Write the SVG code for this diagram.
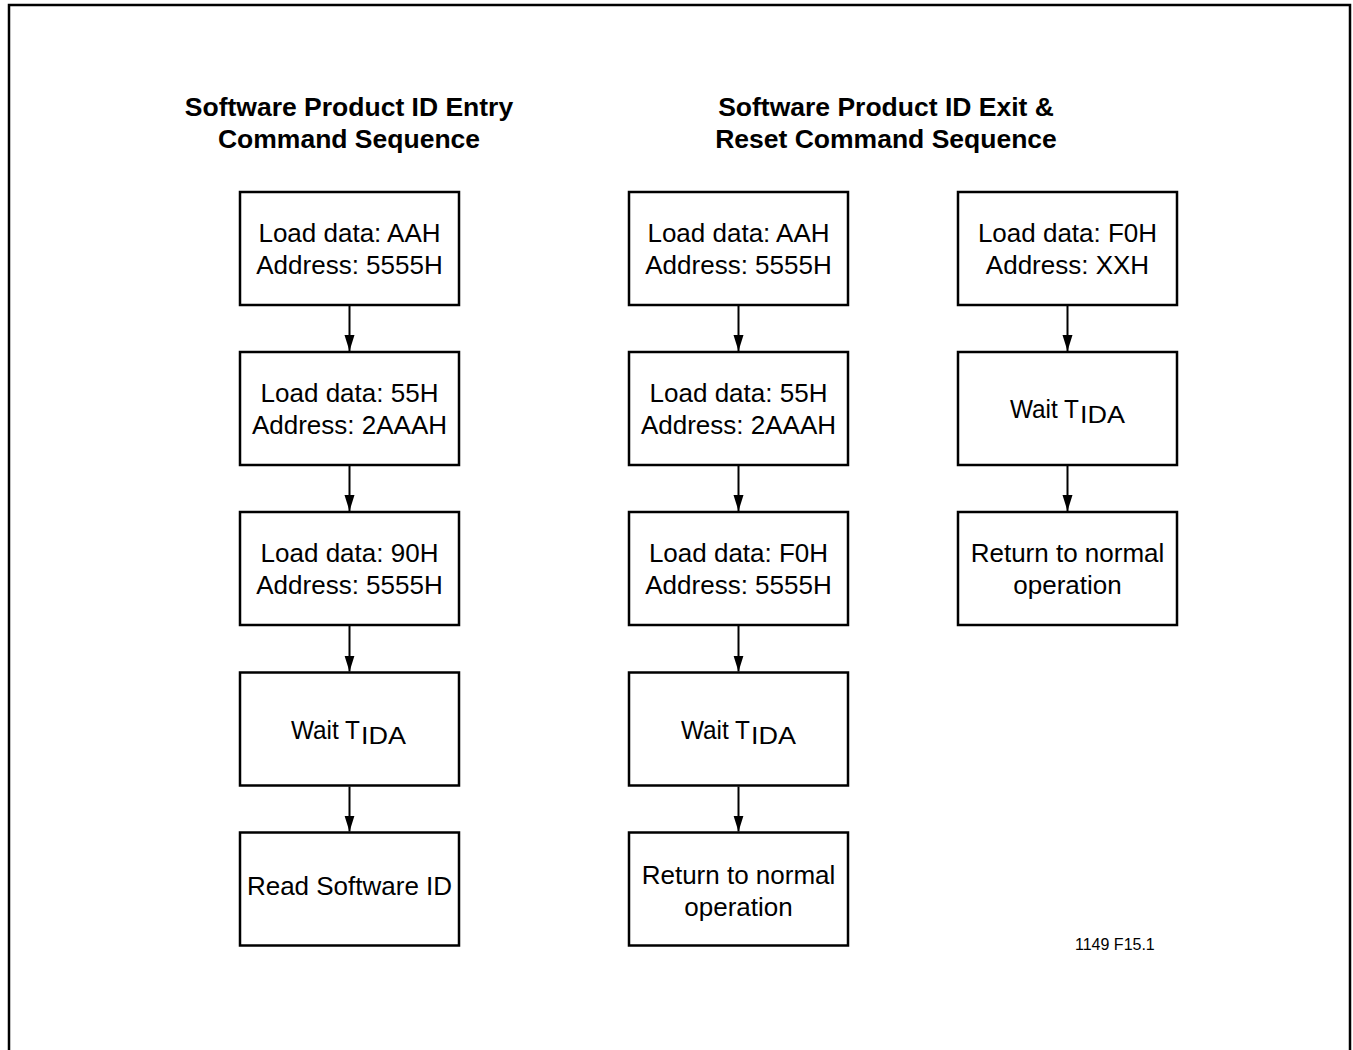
<svg xmlns="http://www.w3.org/2000/svg" width="1353" height="1050" viewBox="0 0 1353 1050">
<style>
  .frame { fill: none; stroke: #000; stroke-width: 2.5; }
  .box { fill: #fff; stroke: #000; stroke-width: 2.5; }
  .t { font-family: "Liberation Sans", Arial, sans-serif; font-size: 26px; fill: #000; text-anchor: middle; }
  .title { font-family: "Liberation Sans", Arial, sans-serif; font-size: 26.5px; font-weight: bold; fill: #000; text-anchor: middle; }
  .sub { font-family: "Liberation Sans", Arial, sans-serif; font-size: 23px; fill: #000; }
  .note { font-family: "Liberation Sans", Arial, sans-serif; font-size: 16px; fill: #000; }
  .conn { stroke: #000; stroke-width: 2; fill: none; marker-end: url(#arr); }
</style>
<defs>
  <marker id="arr" markerUnits="userSpaceOnUse" markerWidth="18" markerHeight="12" refX="16" refY="5" orient="auto">
    <path d="M0,0 L16,5 L0,10 Z" fill="#000"/>
  </marker>
</defs>
<rect width="1353" height="1050" fill="#fff"/>
<rect class="frame" x="9" y="5" width="1341" height="1100"/>

<g id="title-entry">
  <text class="title" x="349" y="116">Software Product ID Entry</text>
  <text class="title" x="349" y="148">Command Sequence</text>
</g>
<g id="title-exit">
  <text class="title" x="886" y="116">Software Product ID Exit &amp;</text>
  <text class="title" x="886" y="148">Reset Command Sequence</text>
</g>

<!-- Column 1 -->
<g id="e1"><rect class="box" x="240" y="192" width="219" height="113"/>
  <text class="t" x="349.5" y="242">Load data: AAH</text><text class="t" x="349.5" y="273.5">Address: 5555H</text></g>
<g id="e2"><rect class="box" x="240" y="352" width="219" height="113"/>
  <text class="t" x="349.5" y="402">Load data: 55H</text><text class="t" x="349.5" y="433.5">Address: 2AAAH</text></g>
<g id="e3"><rect class="box" x="240" y="512" width="219" height="113"/>
  <text class="t" x="349.5" y="562">Load data: 90H</text><text class="t" x="349.5" y="593.5">Address: 5555H</text></g>
<g id="e4"><rect class="box" x="240" y="672.5" width="219" height="113"/>
  <text class="t" x="291" y="739" style="text-anchor:start" textLength="69" lengthAdjust="spacingAndGlyphs">Wait T</text><text class="sub" x="361" y="744" textLength="45" lengthAdjust="spacingAndGlyphs">IDA</text></g>
<g id="e5"><rect class="box" x="240" y="832.5" width="219" height="113"/>
  <text class="t" x="349.5" y="895">Read Software ID</text></g>

<!-- Column 2 -->
<g id="x1"><rect class="box" x="629" y="192" width="219" height="113"/>
  <text class="t" x="738.5" y="242">Load data: AAH</text><text class="t" x="738.5" y="273.5">Address: 5555H</text></g>
<g id="x2"><rect class="box" x="629" y="352" width="219" height="113"/>
  <text class="t" x="738.5" y="402">Load data: 55H</text><text class="t" x="738.5" y="433.5">Address: 2AAAH</text></g>
<g id="x3"><rect class="box" x="629" y="512" width="219" height="113"/>
  <text class="t" x="738.5" y="562">Load data: F0H</text><text class="t" x="738.5" y="593.5">Address: 5555H</text></g>
<g id="x4"><rect class="box" x="629" y="672.5" width="219" height="113"/>
  <text class="t" x="681" y="739" style="text-anchor:start" textLength="69" lengthAdjust="spacingAndGlyphs">Wait T</text><text class="sub" x="751" y="744" textLength="45" lengthAdjust="spacingAndGlyphs">IDA</text></g>
<g id="x5"><rect class="box" x="629" y="832.5" width="219" height="113"/>
  <text class="t" x="738.5" y="884">Return to normal</text><text class="t" x="738.5" y="915.5">operation</text></g>

<!-- Column 3 -->
<g id="r1"><rect class="box" x="958" y="192" width="219" height="113"/>
  <text class="t" x="1067.5" y="242">Load data: F0H</text><text class="t" x="1067.5" y="273.5">Address: XXH</text></g>
<g id="r2"><rect class="box" x="958" y="352" width="219" height="113"/>
  <text class="t" x="1010" y="418" style="text-anchor:start" textLength="69" lengthAdjust="spacingAndGlyphs">Wait T</text><text class="sub" x="1080" y="423" textLength="45" lengthAdjust="spacingAndGlyphs">IDA</text></g>
<g id="r3"><rect class="box" x="958" y="512" width="219" height="113"/>
  <text class="t" x="1067.5" y="562">Return to normal</text><text class="t" x="1067.5" y="593.5">operation</text></g>

<g id="connectors">
  <line class="conn" x1="349.5" y1="306" x2="349.5" y2="351"/>
  <line class="conn" x1="349.5" y1="466" x2="349.5" y2="511"/>
  <line class="conn" x1="349.5" y1="626" x2="349.5" y2="671.5"/>
  <line class="conn" x1="349.5" y1="786.5" x2="349.5" y2="831.5"/>
  <line class="conn" x1="738.5" y1="306" x2="738.5" y2="351"/>
  <line class="conn" x1="738.5" y1="466" x2="738.5" y2="511"/>
  <line class="conn" x1="738.5" y1="626" x2="738.5" y2="671.5"/>
  <line class="conn" x1="738.5" y1="786.5" x2="738.5" y2="831.5"/>
  <line class="conn" x1="1067.5" y1="306" x2="1067.5" y2="351"/>
  <line class="conn" x1="1067.5" y1="466" x2="1067.5" y2="511"/>
</g>

<text id="fig-id" class="note" x="1075" y="950">1149 F15.1</text>
</svg>
